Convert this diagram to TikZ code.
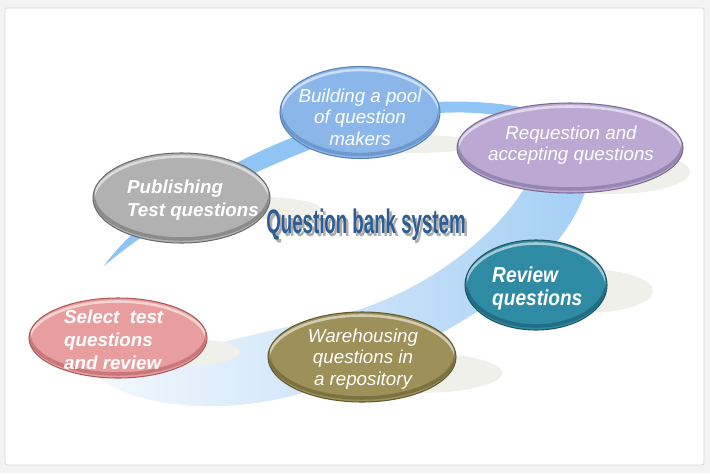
\documentclass[tikz,border=0pt]{standalone}
\usepackage{fontspec}
\setmainfont{Liberation Sans}
\newfontfamily\titlefont[FakeStretch=0.55]{Liberation Sans}
\newfontfamily\revfont[FakeStretch=0.88]{Liberation Sans}
\usetikzlibrary{shapes.geometric}
\definecolor{bgc}{HTML}{F3F3F3}
\definecolor{panelrim}{HTML}{DADADA}
\definecolor{swA}{HTML}{8FC4F4}
\definecolor{swDark}{HTML}{A4CEF5}
\definecolor{swLight}{HTML}{F3F8FD}
\definecolor{shd}{HTML}{F0F0EA}
\definecolor{cBuild}{HTML}{8AB6EA}\definecolor{rBuild}{HTML}{5A82B6}
\definecolor{cReq}{HTML}{BBA9D3}\definecolor{rReq}{HTML}{7A6A92}
\definecolor{cPub}{HTML}{B1B1B1}\definecolor{rPub}{HTML}{6C6C6C}
\definecolor{cRev}{HTML}{2F8BA3}\definecolor{rRev}{HTML}{1A5567}
\definecolor{cSel}{HTML}{E89E9E}\definecolor{rSel}{HTML}{AE5A5A}
\definecolor{cWare}{HTML}{9D9059}\definecolor{rWare}{HTML}{615A2E}
\definecolor{titleblue}{HTML}{2C5D94}
\newcommand\mybubble[7]{%
  \node[bubble, fill=#6, minimum width=#4*0.06cm, minimum height=#5*0.06cm] (#1) at (#2,#3) {};
  \begin{scope}
    \clip (#2,#3) ellipse [x radius=#4*0.03cm, y radius=#5*0.03cm];
    \draw[white, opacity=0.55, line width=2.2pt] (#2,#3+3.5) ellipse [x radius=#4*0.03cm, y radius=#5*0.03cm];
    \draw[#7, opacity=0.55, line width=3pt] (#2,#3-4) ellipse [x radius=#4*0.03cm, y radius=#5*0.03cm];
  \end{scope}
  \draw[#7, line width=0.9pt] (#2,#3) ellipse [x radius=#4*0.03cm, y radius=#5*0.03cm];
}
\begin{document}
\begin{tikzpicture}[x=0.03cm, y=-0.03cm,
  bubble/.style={ellipse, inner sep=0pt, outer sep=0pt, draw=none},
  shadowblob/.style={fill=shd},
  lbl/.style={text=white, inner sep=0pt, font=\itshape\fontsize{16}{18.5}\selectfont},
  lblbold/.style={text=white, inner sep=0pt, font=\bfseries\itshape\fontsize{16}{19.5}\selectfont},
  lblrev/.style={text=white, inner sep=0pt, font=\revfont\bfseries\itshape\fontsize{18.5}{19.5}\selectfont},
  titlestyle/.style={inner sep=0pt, font=\titlefont\bfseries\fontsize{29}{30}\selectfont}]
\useasboundingbox (0,0) rectangle (710,473);
\fill[bgc] (0,0) rectangle (710,473);
\draw[panelrim, fill=white, line width=0.8pt, rounded corners=2pt] (5,8) rectangle (704,465);

% swoosh, upper thin part
\fill[swA] (104,266) .. controls (150,200) and (290,120) .. (420,103)
  .. controls (480,98) and (560,105) .. (600,140) -- (590,160)
  .. controls (550,118) and (490,110) .. (440,113)
  .. controls (320,132) and (175,205) .. (104,266) -- cycle;
% swoosh, lower wide fading part
\shade[left color=swLight, right color=swDark] (590,150)
  .. controls (595,200) and (560,255) .. (480,310)
  .. controls (400,360) and (300,410) .. (200,406)
  .. controls (150,404) and (115,392) .. (100,378)
  .. controls (150,358) and (250,335) .. (340,315)
  .. controls (420,295) and (490,240) .. (520,195)
  .. controls (540,165) and (570,150) .. (590,150) -- cycle;

% shadows
\fill[shadowblob] (410,144) ellipse [x radius=72*0.03cm, y radius=9*0.03cm];
\fill[shadowblob] (612,172) ellipse [x radius=78*0.03cm, y radius=22*0.03cm];
\fill[shadowblob] (240,208) ellipse [x radius=80*0.03cm, y radius=12*0.03cm];
\fill[shadowblob] (585,291) ellipse [x radius=68*0.03cm, y radius=22*0.03cm];
\fill[shadowblob] (165,352) ellipse [x radius=75*0.03cm, y radius=15*0.03cm];
\fill[shadowblob] (420,373) ellipse [x radius=82*0.03cm, y radius=20*0.03cm];

% bubbles
\mybubble{build}{360}{112.5}{80}{46}{cBuild}{rBuild}
\mybubble{req}{570}{148}{113}{45}{cReq}{rReq}
\mybubble{pub}{181.5}{198}{88.5}{45}{cPub}{rPub}
\mybubble{rev}{536}{285}{71}{45}{cRev}{rRev}
\mybubble{sel}{118}{338}{89}{40}{cSel}{rSel}
\mybubble{ware}{362}{357}{94}{45}{cWare}{rWare}

% labels
\node[lbl, align=center] (tbuild) at (360,117) {Building a pool\\of question\\makers};
\node[lbl, align=center] (treq) at (571,145) {Requestion and\\accepting questions};
\node[lblbold, align=left, anchor=west] (tpub) at (127,200) {Publishing\\Test questions};
\node[lblrev, align=left, anchor=west] (trev) at (492,288) {Review\\questions};
\node[lblbold, align=left, anchor=west] (tsel) at (64,340) {Select\ \ test\\questions\\and review};
\node[lbl, align=center] (tware) at (363,359) {Warehousing\\questions in\\a repository};

% title
\node[titlestyle, text=black!40, opacity=0.8] (titleshadow) at (368.5,227.5) {Question bank system};
\node[titlestyle, text=titleblue] (title) at (366,225) {Question bank system};
\end{tikzpicture}
\end{document}
